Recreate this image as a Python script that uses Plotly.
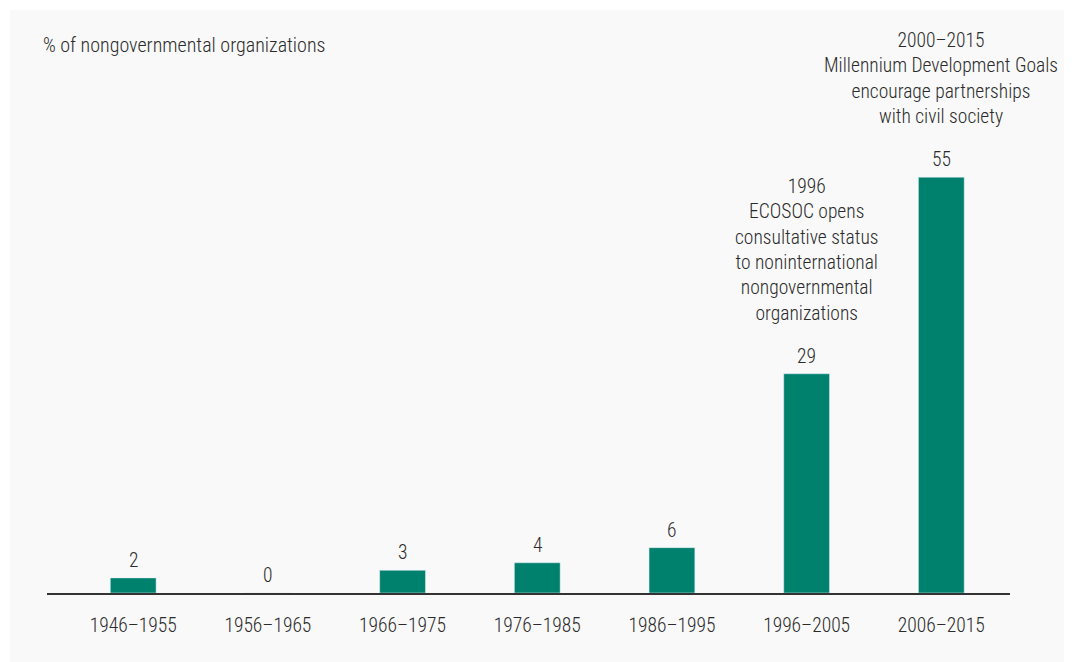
import plotly.graph_objects as go

periods = ["1946–1955", "1956–1965", "1966–1975", "1976–1985",
           "1986–1995", "1996–2005", "2006–2015"]
shares = [2, 0, 3, 4, 6, 29, 55]

notes = {
    "1996–2005": "1996<br>ECOSOC opens<br>consultative status<br>to noninternational<br>nongovernmental<br>organizations",
    "2006–2015": "2000–2015<br>Millennium Development Goals<br>encourage partnerships<br>with civil society",
}

FONT = "Roboto Condensed, Roboto, sans-serif"
TEXT = "#2b2b2b"
BAR = "#00816d"
# page body has an 8px margin, so the figure is a bit smaller than the window
W, H = 1064, 654
L, R, T, B = 39, 62, 18, 69

fig = go.Figure(go.Bar(
    x=periods, y=shares, marker_color=BAR, width=0.34,
    hoverinfo="skip",
))

# value labels above bars
for p, v in zip(periods, shares):
    fig.add_annotation(
        x=p, y=v, text=str(v), showarrow=False,
        yanchor="bottom", yshift=4,
        font=dict(family=FONT, size=19.5, color=TEXT, weight=300),
    )

# milestone notes
for p, txt in notes.items():
    v = shares[periods.index(p)]
    fig.add_annotation(
        x=p, y=v, text=txt, showarrow=False, align="center",
        yanchor="bottom", yshift=47,
        font=dict(family=FONT, size=19.5, color=TEXT, weight=300),
    )

# light panel behind chart
pw, ph = W - L - R, H - T - B
fig.add_shape(
    type="rect", xref="paper", yref="paper", layer="below",
    x0=(2 - L) / pw, x1=(W - L) / pw,
    y0=-B / ph, y1=(H - B - 2) / ph,
    fillcolor="#f9f9f9", line_width=0,
)

fig.update_layout(
    width=W, height=H,
    margin=dict(l=L, r=R, t=T, b=B),
    paper_bgcolor="white", plot_bgcolor="rgba(0,0,0,0)",
    title=dict(
        text="% of nongovernmental organizations",
        x=35 / W, xanchor="left", y=1 - 37 / H, yanchor="middle",
        font=dict(family=FONT, size=20, color=TEXT, weight=300),
    ),
    xaxis=dict(
        range=[-0.64, 6.51], showgrid=False, showline=True,
        linecolor="#333333", linewidth=2, ticks="",
        ticklabelstandoff=14,
        tickfont=dict(family=FONT, size=19.5, color=TEXT, weight=300),
    ),
    yaxis=dict(range=[0, 75], visible=False),
    showlegend=False,
)

fig.write_html("out.html")
